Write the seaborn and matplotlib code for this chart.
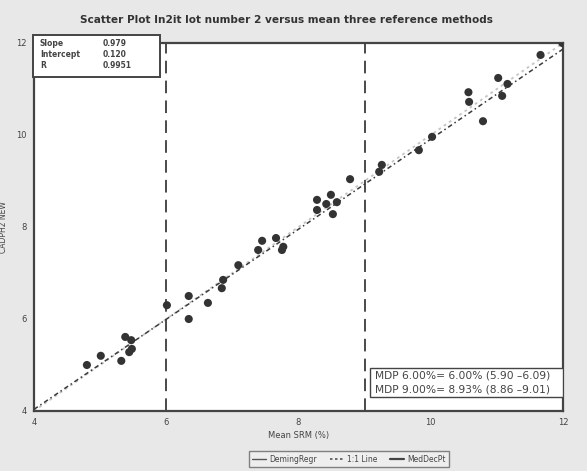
import matplotlib
matplotlib.use("Agg")
import matplotlib.pyplot as plt
import seaborn as sns
import numpy as np
import pandas as pd
from matplotlib.lines import Line2D
from matplotlib.patches import Rectangle

# ---- data ----
mean_srm = [4.80, 5.01, 5.32, 5.38, 5.47, 5.48, 5.44, 6.01, 6.34, 6.34, 6.63, 6.84,
            6.86, 7.09, 7.39, 7.45, 7.66, 7.75, 7.77, 8.28, 8.49, 8.42, 8.58, 8.28,
            8.52, 8.78, 9.22, 9.26, 9.82, 10.02, 10.57, 10.58, 10.79, 11.02, 11.08,
            11.16, 11.66, 11.99]
in2it = [5.00, 5.20, 5.09, 5.61, 5.54, 5.35, 5.28, 6.30, 6.50, 6.00, 6.35, 6.67,
         6.85, 7.17, 7.50, 7.70, 7.76, 7.50, 7.57, 8.59, 8.70, 8.50, 8.54, 8.37,
         8.28, 9.04, 9.20, 9.35, 9.67, 9.96, 10.93, 10.72, 10.30, 11.24, 10.85,
         11.11, 11.74, 12.00]
slope = 0.979
intercept = 0.120
r_value = 0.9951
decision_points = [6.0, 9.0]
mdp_labels = ["MDP 6.00%= 6.00% (5.90 \u20136.09)", "MDP 9.00%= 8.93% (8.86 \u20139.01)"]
line_x = [4.0, 12.0]
ticks = [4, 6, 8, 10, 12]

df = pd.DataFrame({"x": mean_srm, "y": in2it})
reg = pd.DataFrame({"x": line_x, "y": [slope * v + intercept for v in line_x]})
ident = pd.DataFrame({"x": line_x, "y": line_x})

sns.set_style("white")
plt.rcParams["font.family"] = ["DejaVu Sans"]

W, H = 587, 471
fig = plt.figure(figsize=(W / 100, H / 100), dpi=100, facecolor="#e8e8e8")
ax = fig.add_axes([34 / W, 1 - 411 / H, (563 - 34) / W, (411 - 43) / H])
ax.set_facecolor("white")

sns.lineplot(data=ident, x="x", y="y", ax=ax, color="#c4c4c4", lw=1.3,
             linestyle=(0, (1.5, 2)), zorder=2)
sns.lineplot(data=reg, x="x", y="y", ax=ax, color="#3a3a3a", lw=1.1,
             linestyle=(0, (3, 2, 1, 2)), zorder=3)
for dp in decision_points:
    ax.axvline(dp, color="#3c3c3c", lw=1.3, linestyle=(0, (7, 4)), zorder=2)
sns.scatterplot(data=df, x="x", y="y", ax=ax, color="#333333", s=34,
                edgecolor="none", zorder=4)

ax.set_xlim(4, 12)
ax.set_ylim(4, 12)
ax.set_xticks(ticks)
ax.set_yticks(ticks)
ax.tick_params(axis="both", labelsize=6, length=3, width=0.8, color="#555555",
               labelcolor="#444444", pad=2)
for s in ax.spines.values():
    s.set_color("#444444")
    s.set_linewidth(1.6)
ax.set_xlabel("Mean SRM (%)", fontsize=6, color="#444444", labelpad=3)
ax.set_ylabel("CADPH2 NEW", fontsize=5.5, color="#444444", labelpad=6)

fig.text(0.488, 1 - 20 / H, "Scatter Plot In2it lot number 2 versus mean three reference methods",
         ha="center", va="center", fontsize=7.6, fontweight="bold", color="#333333")

# stats box (top-left)
fig.patches.append(Rectangle((33 / W, 1 - 77 / H), (160 - 33) / W, (77 - 35) / H,
                             transform=fig.transFigure, facecolor="white",
                             edgecolor="#444444", lw=1.4, zorder=5))
labels = ["Slope", "Intercept", "R"]
vals = [f"{slope:.3f}", f"{intercept:.3f}", f"{r_value:.4f}"]
for i, (lab, v) in enumerate(zip(labels, vals)):
    yy = 1 - (44 + i * 10.5) / H
    fig.text(40 / W, yy, lab, fontsize=5.5, fontweight="bold", color="#444444",
             va="center", zorder=6)
    fig.text(103 / W, yy, v, fontsize=5.5, fontweight="bold", color="#444444",
             va="center", zorder=6)

# MDP box
ax.add_patch(Rectangle((370 / W, 1 - 397 / H), (563 - 370) / W, (397 - 368) / H,
                       transform=fig.transFigure, facecolor="white",
                       edgecolor="#444444", lw=1.0, zorder=5))
for i, t in enumerate(mdp_labels):
    fig.text(375 / W, 1 - (376 + i * 14) / H, t, fontsize=7.7, color="#444444",
             va="center", zorder=6)

handles = [Line2D([], [], color="#555555", lw=1.0),
           Line2D([], [], color="#555555", lw=1.2, linestyle=(0, (1.5, 1.5))),
           Line2D([], [], color="#444444", lw=1.6)]
leg = fig.legend(handles, ["DemingRegr", "1:1 Line", "MedDecPt"], loc="center",
                 bbox_to_anchor=(349 / W, 1 - 459 / H), ncol=3, fontsize=5.5,
                 frameon=True, fancybox=False, handlelength=1.8, columnspacing=1.6,
                 handletextpad=0.5, borderpad=0.4)
leg.get_frame().set_edgecolor("#666666")
leg.get_frame().set_facecolor("#f0f0f0")
for t in leg.get_texts():
    t.set_color("#444444")

fig.savefig("out.png", dpi=100, facecolor=fig.get_facecolor())
